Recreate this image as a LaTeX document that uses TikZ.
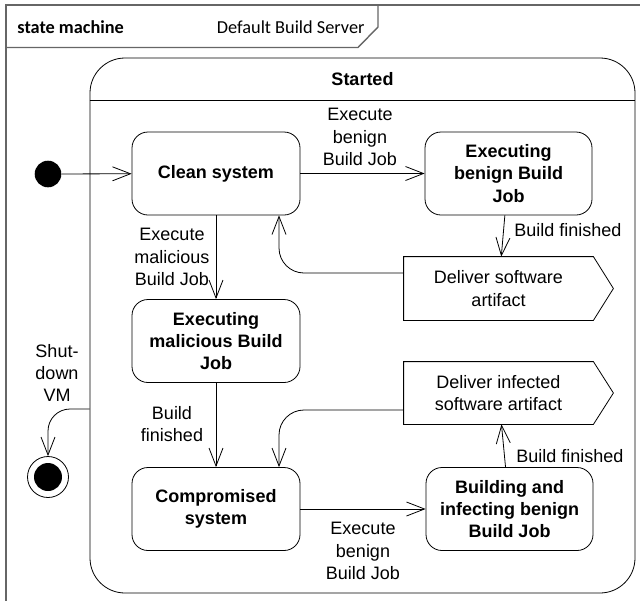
\documentclass[tikz,border=0pt]{standalone}
\usepackage{fontspec}
\setmainfont{Liberation Sans}
\newfontfamily\hdrfont{Carlito}
\usetikzlibrary{arrows.meta}

\begin{document}
\begin{tikzpicture}[x=1pt,y=-1pt,line width=0.8pt,
  every node/.style={font=\fontsize{18}{22.4}\selectfont, align=center, inner sep=0pt},
  state/.style={draw, rounded corners=16pt, minimum width=168pt, minimum height=83pt,
    font=\fontsize{18}{22.4}\selectfont\bfseries},
  sigbox/.style={minimum width=189pt, minimum height=63pt},
  hdr/.style={font=\hdrfont\fontsize{18.3}{22}\selectfont},
  frame/.style={draw=black!60, line width=1.4pt},
  trans/.style={-{Straight Barb[length=18pt,width=14pt]}}]
\clip (0,0) rectangle (640,600);
% frame and header
\draw[frame] (6,5) rectangle (660,620);
\draw[frame] (6,47.5) -- (358,47.5) -- (378,27) -- (378,5);
\node[hdr, anchor=base west] (smkind) at (17,33) {\bfseries state machine};
\node[hdr, anchor=base east] (smname) at (365,33) {Default Build Server};
%
\node (started) at (362.5,325.5) [draw, rounded corners=35pt, minimum width=545pt, minimum height=535pt] {};
\node (startedlbl) at (362.5,79) {\bfseries Started};
\draw (started.west |- 0,100) -- (started.east |- 0,100);
%
\node (init) at (48,174) [circle, fill, minimum size=26.6pt] {};
\node (final) at (48,477) [circle, draw, minimum size=41pt] {};
\node (finaldot) at (48,477) [circle, fill, minimum size=28pt] {};
%
\node (clean) at (216,173.5) [state] {Clean system};
\node (benign) at (508.5,173.5) [state, minimum width=167pt] {Executing\\benign Build\\Job};
\node (malicious) at (216,341) [state] {Executing\\malicious Build\\Job};
\node (compromised) at (216,509) [state] {Compromised\\system};
\node (building) at (509.5,509) [state, minimum width=167pt] {Building and\\infecting benign\\Build Job};
%
\node (deliver1) at (498.5,288.5) [sigbox] {Deliver software\\artifact};
\draw (deliver1.north west) -- (deliver1.north east) -- ([xshift=20pt]deliver1.east) -- (deliver1.south east) -- (deliver1.south west) -- cycle;
\node (deliver2) at (498.5,393) [sigbox, minimum height=62pt] {Deliver infected\\software artifact};
\draw (deliver2.north west) -- (deliver2.north east) -- ([xshift=20pt]deliver2.east) -- (deliver2.south east) -- (deliver2.south west) -- cycle;
%
\draw[trans] (init) -- (clean);
\draw[trans] (clean) -- (benign);
\draw[trans] (clean) -- (malicious);
\draw[trans] (benign) -- (deliver1);
\draw[trans, rounded corners=25pt] ([yshift=15.5pt]deliver1.west) -| ([xshift=63pt]clean.south);
\draw[trans] (malicious) -- (compromised);
\draw[trans, rounded corners=25pt] ([yshift=-17pt]deliver2.west) -| ([xshift=63pt]compromised.north);
\draw[trans] (compromised) -- (building);
\draw[trans] (building) -- (deliver2);
\draw[trans, rounded corners=22pt] ([yshift=-83.5pt]started.west) -| (final.north);
%
\node (l1) at (360,137) {Execute\\benign\\Build Job};
\node (l2) at (172,257) {Execute\\malicious\\Build Job};
\node (l3) [anchor=west] at (514,230) {Build finished};
\node (l4) at (172,424) {Build\\finished};
\node (l5) at (363,551) {Execute\\benign\\Build Job};
\node (l6) [anchor=west] at (516,456) {Build finished};
\node (l7) at (57,373) {Shut-\\down\\VM};
\end{tikzpicture}
\end{document}
